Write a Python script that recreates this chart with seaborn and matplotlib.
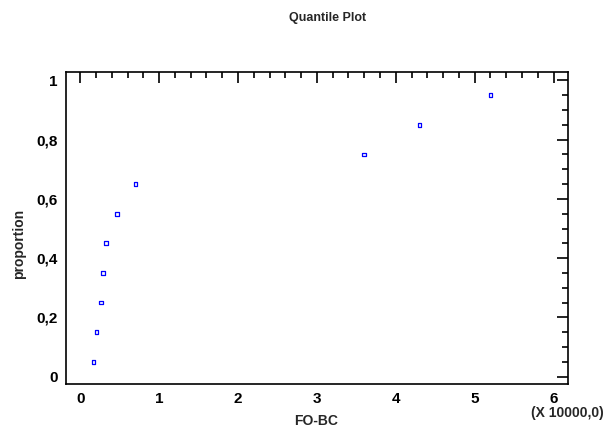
import numpy as np
import pandas as pd
import matplotlib.pyplot as plt
import seaborn as sns
from matplotlib.ticker import MultipleLocator, FuncFormatter

# data (FO-BC raw values, proportion)
fo_bc = [1680, 2070, 2660, 2870, 3290, 4680, 7000, 36000, 43000, 52000]
proportion = [0.05, 0.15, 0.25, 0.35, 0.45, 0.55, 0.65, 0.75, 0.85, 0.95]

df = pd.DataFrame({'FO-BC': np.array(fo_bc) / 10000.0, 'proportion': proportion})

sns.set_style('white')
plt.rcParams['font.family'] = ['Liberation Sans', 'DejaVu Sans']
plt.rcParams['font.weight'] = 'bold'

fig = plt.figure(figsize=(6.06, 4.34), dpi=100)
ax = fig.add_axes([0.1089, 0.115, 0.828, 0.719])

sns.scatterplot(data=df, x='FO-BC', y='proportion', ax=ax, marker='s', s=7,
                facecolor='none', edgecolor='#0000ff', linewidth=0.9)

ax.set_xlim(-0.18, 6.18)
ax.set_ylim(-0.025, 1.028)

ax.xaxis.set_major_locator(MultipleLocator(1))
ax.xaxis.set_minor_locator(MultipleLocator(0.2))
ax.yaxis.set_major_locator(MultipleLocator(0.2))
ax.yaxis.set_minor_locator(MultipleLocator(0.05))

comma = FuncFormatter(lambda v, p: ('%g' % round(v, 2)).replace('.', ','))
ax.xaxis.set_major_formatter(comma)
ax.yaxis.set_major_formatter(comma)

ax.tick_params(which='both', direction='in', top=True, right=True, colors='black',
               labelsize=11, width=1.2)
ax.tick_params(which='major', length=8, pad=6)
ax.tick_params(which='minor', length=4)

for sp in ax.spines.values():
    sp.set_color('black')
    sp.set_linewidth(1.2)

ax.set_xlabel('FO-BC', fontsize=10, fontweight='bold')
ax.xaxis.set_label_coords(0.498, -0.095)
ax.set_ylabel('proportion', fontsize=10, fontweight='bold')
ax.yaxis.set_label_coords(-0.08, 0.45)
fig.text(0.541, 0.958, 'Quantile Plot', fontsize=9, fontweight='bold', ha='center', va='center')
fig.text(0.997, 0.048, '(X 10000,0)', fontsize=10, fontweight='bold', ha='right', va='center')

fig.savefig('out.png', dpi=100)
